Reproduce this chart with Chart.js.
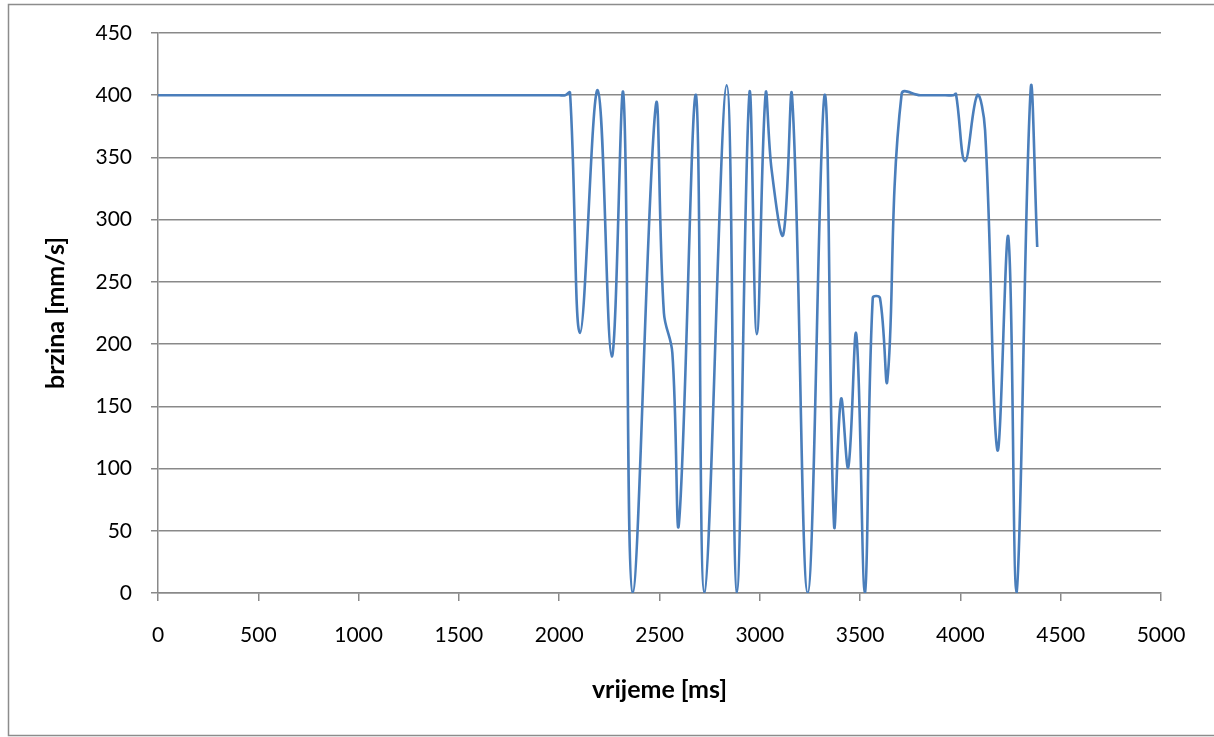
<!DOCTYPE html>
<html>
<head>
<meta charset="utf-8">
<script src="https://cdn.jsdelivr.net/npm/chart.js@4.4.0/dist/chart.umd.min.js"></script>
<style>
html,body{margin:0;padding:0;background:#fff;}
#wrap{position:relative;width:1214px;height:737px;}
</style>
</head>
<body>
<div id="wrap"><canvas id="c" width="1214" height="737"></canvas></div>
<script>
// time [ms]
const timeMs = [0, 500, 1000, 1500, 2000, 2030, 2054, 2104, 2192, 2262, 2320, 2366, 2481, 2522, 2564, 2597, 2682, 2724, 2835, 2885, 2948, 2985, 3029, 3059, 3117, 3161, 3239, 3323, 3370, 3405, 3441, 3481, 3524, 3563, 3599, 3636, 3707, 3800, 3900, 3965, 3978, 4023, 4084, 4123, 4184, 4239, 4280, 4350, 4383];
// speed [mm/s]
const speed = [400, 400, 400, 400, 400, 400, 402, 209, 404, 190, 401, 0, 391, 225, 193, 56, 400, 0, 408, 0, 401, 208, 401, 340, 288, 399, 0, 400, 55, 156, 101, 208, 0, 237, 237, 171, 401, 400, 400, 400, 401, 347, 400, 372, 115, 286, 0, 404, 278];
const xTicks = [0, 500, 1000, 1500, 2000, 2500, 3000, 3500, 4000, 4500, 5000];
const yTicks = [0, 50, 100, 150, 200, 250, 300, 350, 400, 450];
const xTitle = 'vrijeme [ms]';
const yTitle = 'brzina [mm/s]';

const points = timeMs.map((t, i) => ({x: t, y: speed[i]}));
const FONT = 'Lato, "Open Sans", sans-serif';
const gridColor = '#898989';

const borderPlugin = {
  id: 'outerBorder',
  beforeDraw(chart) {
    const ctx = chart.ctx;
    ctx.save();
    ctx.fillStyle = '#fff';
    ctx.fillRect(0, 0, chart.width, chart.height);
    ctx.strokeStyle = '#8c8c8c';
    ctx.lineWidth = 1.5;
    ctx.strokeRect(8.5, 4.5, 1230, 731);
    ctx.restore();
  }
};

new Chart(document.getElementById('c'), {
  type: 'scatter',
  data: {
    datasets: [{
      data: points,
      showLine: true,
      borderColor: '#4a7ebb',
      borderWidth: 2.6,
      pointRadius: 0,
      tension: 0.4,
      fill: false
    }]
  },
  options: {
    responsive: false,
    animation: false,
    devicePixelRatio: 1,
    layout: {padding: {left: 10, top: 33, right: 53, bottom: 20}},
    plugins: {legend: {display: false}, tooltip: {enabled: false}},
    scales: {
      x: {
        type: 'linear',
        min: 0, max: 5000,
        afterBuildTicks(scale) { scale.ticks = xTicks.map(v => ({value: v})); },
        afterFit(scale) { scale.height = 124; },
        ticks: {color: '#000', font: {family: FONT, size: 21}, padding: 22, maxRotation: 0, callback: v => String(v)},
        grid: {display: true, drawOnChartArea: false, drawTicks: true, tickLength: 8, color: gridColor, lineWidth: 1.5},
        border: {display: true, color: gridColor, width: 1.5},
        title: {display: true, text: xTitle, color: '#000', font: {family: FONT, size: 25, weight: 'bold'}, padding: {top: 0, bottom: 12}}
      },
      y: {
        type: 'linear',
        min: 0, max: 450,
        afterBuildTicks(scale) { scale.ticks = yTicks.map(v => ({value: v})); },
        afterFit(scale) { scale.width = 148; },
        ticks: {color: '#000', font: {family: FONT, size: 21}, padding: 19, callback: v => String(v)},
        grid: {display: true, drawOnChartArea: true, drawTicks: true, tickLength: 7, color: gridColor, lineWidth: 1.5},
        border: {display: true, color: gridColor, width: 1.5},
        title: {display: true, text: yTitle, color: '#000', font: {family: FONT, size: 25, weight: 'bold'}, padding: {top: 31, bottom: 0}}
      }
    }
  },
  plugins: [borderPlugin]
});
</script>
</body>
</html>
